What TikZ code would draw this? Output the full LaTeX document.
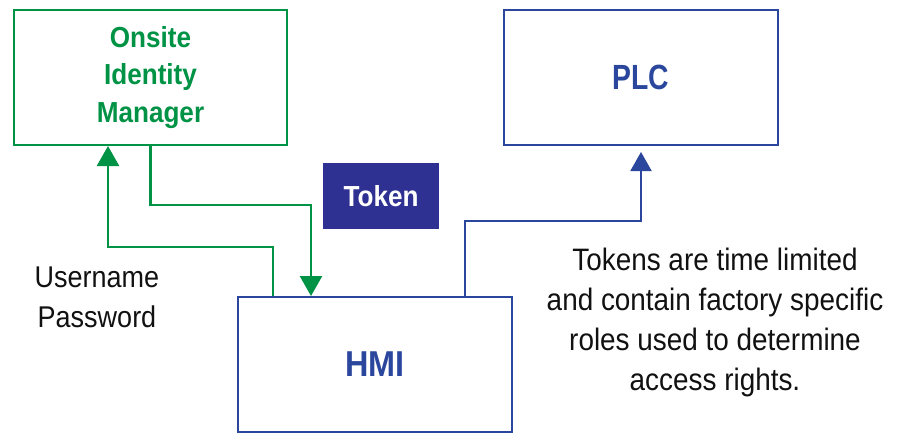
\documentclass[tikz,border=0pt]{standalone}
\usepackage{fontspec}
\setmainfont{Liberation Sans}[FakeStretch=0.9]
\usepackage{xcolor,tikz}
\usetikzlibrary{positioning,calc,arrows.meta}
\definecolor{idmGreen}{HTML}{009245}
\definecolor{netBlue}{HTML}{2B479D}
\definecolor{tokenFill}{HTML}{2E3192}
\definecolor{noteBlack}{HTML}{111111}

\begin{document}
\begin{tikzpicture}[x=1pt, y=-1pt,
  idmBox/.style={draw=idmGreen, line width=2pt, minimum width=273pt,
    minimum height=135pt, inner sep=0pt, text=idmGreen, align=center},
  netBox/.style={draw=netBlue, line width=2pt, minimum width=274pt,
    minimum height=135pt, inner sep=0pt, text=netBlue},
  idmLine/.style={draw=idmGreen, line width=2.5pt,
    -{Triangle[length=20pt, width=22pt]}},
  netLine/.style={draw=netBlue, line width=2pt,
    -{Triangle[length=19pt, width=21pt]}},
  plainText/.style={text=noteBlack, align=center,
    font=\fontsize{30}{40}\selectfont}]

\useasboundingbox (0,0) rectangle (902,434);

% --- BOXES ---
\node[idmBox, font=\fontsize{29}{37.5}\selectfont\bfseries]
  (oim) at (150.5, 77.5) {Onsite\\Identity\\Manager};
\node[netBox, font=\fontsize{35}{40}\selectfont\bfseries]
  (plc) at (641, 77.5) {\scalebox{0.9}[1]{PLC}};
\node[netBox, font=\fontsize{36}{40}\selectfont\bfseries]
  (hmi) at (375, 364.5) {HMI};

% --- TOKEN TAG ---
\node[fill=tokenFill, minimum width=116pt, minimum height=66pt,
  text=white, font=\fontsize{29}{36}\selectfont\bfseries]
  (token) at (381, 196) {Token};

% --- TEXTS ---
\node[plainText] (creds) at (97, 297) {Username\\Password};
\node[plainText, font=\fontsize{31}{40}\selectfont] (note) at (715, 322)
  {Tokens are time limited\\and contain factory specific\\roles used to determine\\access rights.};

% --- BEND POINTS ---
\coordinate (tokBend) at (311, 205);
\coordinate (credBend) at (273, 247);
\coordinate (credIn) at (108, 247);
\coordinate (plcBend) at (465, 221);
\coordinate (plcIn) at (641, 221);

% --- CONNECTORS ---
\draw[idmLine] (oim.south) |- (tokBend) -- (tokBend |- hmi.north);
\draw[idmLine] (credBend |- hmi.north) -- (credBend) -- (credIn)
  -- (credIn |- oim.south);
\draw[netLine] (plcBend |- hmi.north) -- (plcBend) -- (plcIn)
  -- ($(plcIn |- plc.south)+(0,6)$);

\end{tikzpicture}
\end{document}
